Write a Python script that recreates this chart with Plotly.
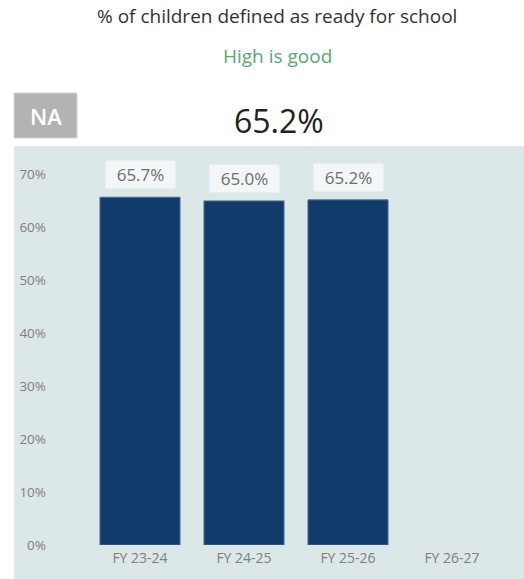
import plotly.graph_objects as go

# Data
categories = ["FY 23-24", "FY 24-25", "FY 25-26", "FY 26-27"]
values = [65.7, 65.0, 65.2, None]
y_ticks = [0, 10, 20, 30, 40, 50, 60, 70]
y_tick_labels = ["0%", "10%", "20%", "30%", "40%", "50%", "60%", "70%"]
headline_value = "65.2%"
status_label = "NA"

W, H = 524, 579
ML, MR, MT, MB = 88, 20, 148, 34
PW, PH = W - ML - MR, H - MT - MB

PANEL = "#dce7e7"
BAR = "#113b6b"
TICK = "#808080"
FONT = "Open Sans"

fig = go.Figure()
fig.add_trace(go.Bar(
    x=categories,
    y=values,
    marker=dict(color=BAR, line=dict(color="#4f6f92", width=1)),
    width=0.77,
    hoverinfo="skip",
))

# value labels above each bar
for c, v in zip(categories, values):
    if v is None:
        continue
    fig.add_annotation(
        x=c, y=v, xref="x", yref="y",
        text=f"{v:.1f}%", showarrow=False,
        xanchor="center", yanchor="bottom", yshift=8,
        width=61, height=19,
        bgcolor="#f2f6f6", borderpad=4,
        font=dict(family=FONT, size=17, color="#6e6e6e"),
    )

def px_x(p):
    return (p - ML) / PW

def px_y(p):
    return 1 - (p - MT) / PH

def label(text, x, y, size, color, weight=400):
    fig.add_annotation(xref="paper", yref="paper", x=px_x(x), y=px_y(y),
                       xanchor="center", yanchor="middle",
                       text=text, showarrow=False,
                       font=dict(family=FONT, size=size, color=color, weight=weight))

# background panel behind the chart
fig.add_shape(type="rect", xref="paper", yref="paper",
              x0=px_x(14), x1=px_x(W + 2), y0=px_y(H + 2), y1=px_y(146),
              fillcolor=PANEL, line=dict(width=0), layer="below")

# status badge
fig.add_shape(type="rect", xref="paper", yref="paper",
              x0=px_x(14), x1=px_x(77), y0=px_y(138), y1=px_y(93),
              fillcolor="#b3b3b3", line=dict(color="#d6d6d6", width=1), layer="below")
label(status_label, 45.5, 116, 22, "white", 600)

# titles
label("% of children defined as ready for school", 277, 16, 19, "#333333", 500)
label("High is good", 277, 56, 19, "#58a777", 500)
label(headline_value, 279, 120, 32, "#222222", 500)

fig.update_layout(
    width=W, height=H,
    margin=dict(l=ML, r=MR, t=MT, b=MB),
    paper_bgcolor="white",
    plot_bgcolor=PANEL,
    showlegend=False,
    xaxis=dict(
        categoryorder="array", categoryarray=categories,
        range=[-0.5, 3.5],
        showgrid=False, zeroline=False, showline=False,
        tickfont=dict(family=FONT, size=14, color=TICK),
        ticklabelstandoff=3,
    ),
    yaxis=dict(
        range=[0, 75],
        tickvals=y_ticks, ticktext=y_tick_labels,
        showgrid=False, zeroline=False, showline=False,
        tickfont=dict(family=FONT, size=13.5, color=TICK),
        ticklabelstandoff=41,
    ),
)

fig.write_html("out.html")
